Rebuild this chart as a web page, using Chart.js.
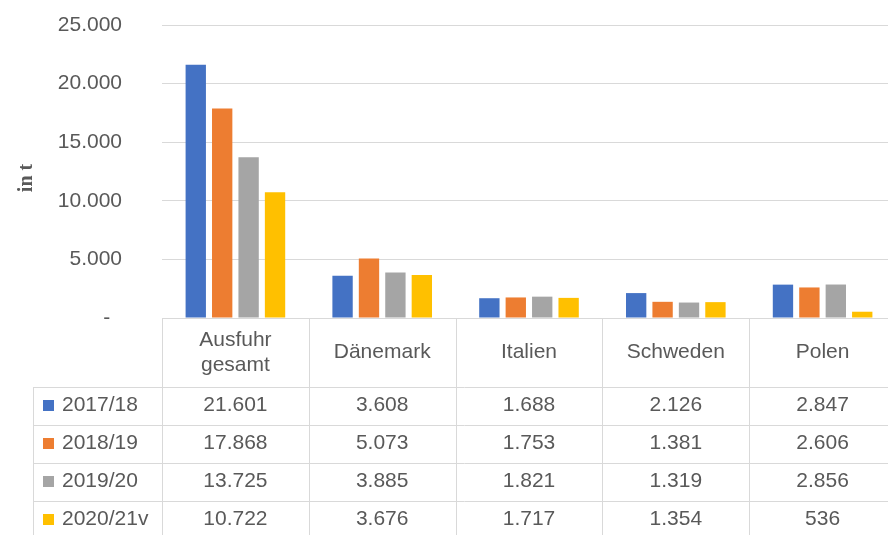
<!DOCTYPE html>
<html>
<head>
<meta charset="utf-8">
<script src="https://cdn.jsdelivr.net/npm/chart.js@4.4.0/dist/chart.umd.min.js"></script>
<style>
  html, body { margin: 0; padding: 0; overflow: hidden; background: #fff; }
  #wrap { width: 896px; height: 535px; }
</style>
</head>
<body>
<div id="wrap"><canvas id="chart" width="896" height="535"></canvas></div>
<script>
// data
const categories = [['Ausfuhr', 'gesamt'], 'Dänemark', 'Italien', 'Schweden', 'Polen'];
const seasons = ['2017/18', '2018/19', '2019/20', '2020/21v'];
const values1718 = [21601, 3608, 1688, 2126, 2847];
const values1819 = [17868, 5073, 1753, 1381, 2606];
const values1920 = [13725, 3885, 1821, 1319, 2856];
const values2021 = [10722, 3676, 1717, 1354, 536];
const seriesColors = ['#4472C4', '#ED7D31', '#A5A5A5', '#FFC000'];
const yMax = 25000;
const yStep = 5000;
const yTitle = 'in t';

const allValues = [values1718, values1819, values1920, values2021];
const FONT = '"Liberation Sans", Arial, sans-serif';
const TEXT = '#595959';
const LINE = '#d9d9d9';

function fmt(n) {
  if (n === 0) return '-  ';
  return String(n).replace(/\B(?=(\d{3})+(?!\d))/g, '.');
}

// draws the data table under the plot + the rotated axis title
const dataTable = {
  id: 'dataTable',
  afterDraw(chart) {
    const ctx = chart.ctx;
    const ca = chart.chartArea;
    const xs = chart.scales.x;
    const H = chart.height;
    const cw = (ca.right - ca.left) / categories.length;
    const headerH = 69, rowH = 38, legendLeft = 33;
    const rowTop = i => ca.bottom + headerH + i * rowH;

    ctx.save();
    ctx.strokeStyle = LINE;
    ctx.lineWidth = 1;
    ctx.beginPath();
    for (let i = 0; i <= categories.length; i++) {
      const x = Math.round(ca.left + i * cw) + 0.5;
      ctx.moveTo(x, ca.bottom);
      ctx.lineTo(x, H);
    }
    ctx.moveTo(legendLeft + 0.5, rowTop(0));
    ctx.lineTo(legendLeft + 0.5, H);
    for (let r = 0; r < seasons.length; r++) {
      const y = Math.round(rowTop(r)) + 0.5;
      ctx.moveTo(legendLeft, y);
      ctx.lineTo(chart.width, y);
    }
    ctx.stroke();

    ctx.fillStyle = TEXT;
    ctx.font = '21px ' + FONT;
    ctx.textAlign = 'center';
    ctx.textBaseline = 'middle';
    categories.forEach((c, i) => {
      const x = xs.getPixelForValue(i);
      const lines = Array.isArray(c) ? c : [c];
      const mid = ca.bottom + headerH / 2;
      lines.forEach((t, k) => {
        ctx.fillText(t, x, mid + (k - (lines.length - 1) / 2) * 25);
      });
    });

    seasons.forEach((s, r) => {
      const cy = rowTop(r) + rowH / 2 - 1;
      ctx.fillStyle = seriesColors[r];
      ctx.fillRect(43, cy - 5, 11, 11);
      ctx.fillStyle = TEXT;
      ctx.textAlign = 'left';
      ctx.fillText(s, 62, cy);
      ctx.textAlign = 'center';
      allValues[r].forEach((v, i) => {
        ctx.fillText(fmt(v), xs.getPixelForValue(i), cy);
      });
    });

    // axis title
    ctx.translate(27, 178);
    ctx.rotate(-Math.PI / 2);
    ctx.font = 'bold 20px "Liberation Serif", "Times New Roman", serif';
    ctx.fillStyle = TEXT;
    ctx.textAlign = 'center';
    ctx.fillText(yTitle, 0, 0);
    ctx.restore();
  }
};

new Chart(document.getElementById('chart'), {
  type: 'bar',
  data: {
    labels: categories.map(c => Array.isArray(c) ? c.join(' ') : c),
    datasets: seasons.map((s, i) => ({
      label: s,
      data: allValues[i],
      backgroundColor: seriesColors[i],
      borderWidth: 0,
      categoryPercentage: 0.72,
      barPercentage: 0.77,
    })),
  },
  options: {
    responsive: false,
    animation: false,
    layout: { padding: { left: 0, right: 0, top: 25, bottom: 217 } },
    plugins: {
      legend: { display: false },
      tooltip: { enabled: false },
    },
    scales: {
      x: { display: false },
      y: {
        min: 0,
        max: yMax,
        afterFit(scale) {
          scale.width = 162;
          // tick padding is horizontal only here, don't let it push the plot down
          scale.paddingTop = 13;
          scale.paddingBottom = 13;
        },
        border: { display: false },
        grid: { color: LINE, drawTicks: false, lineWidth: 1 },
        ticks: {
          stepSize: yStep,
          padding: 40,
          color: TEXT,
          font: { family: FONT, size: 21 },
          callback: v => fmt(v),
        },
      },
    },
  },
  plugins: [dataTable],
});
</script>
</body>
</html>
